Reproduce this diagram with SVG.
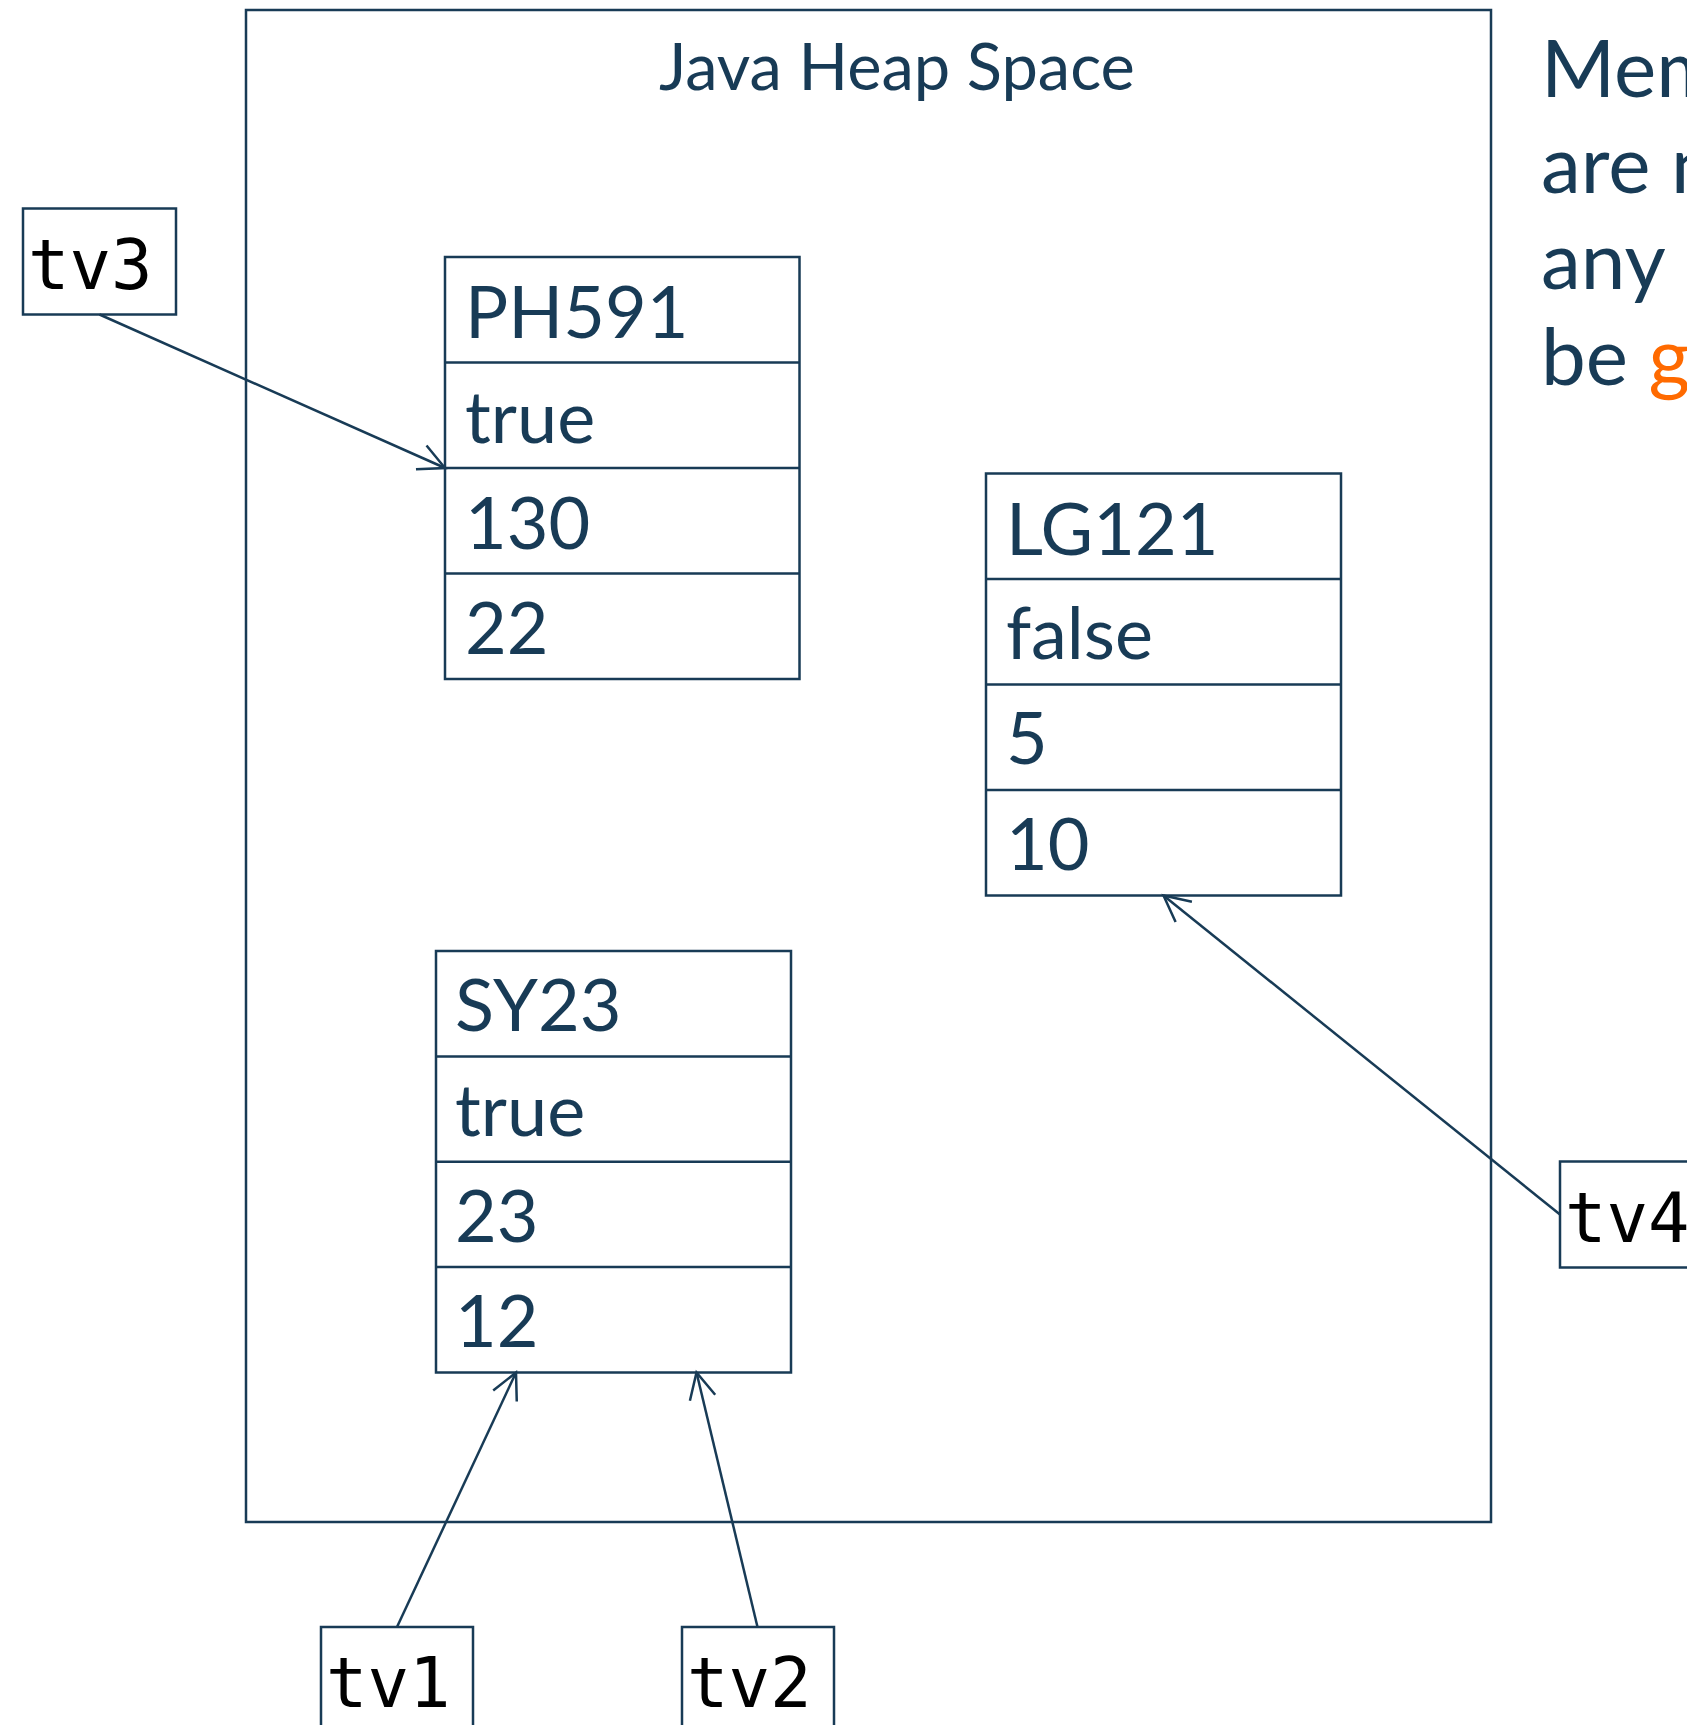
<svg xmlns="http://www.w3.org/2000/svg" width="1687" height="1725" viewBox="0 0 1687 1725">
<style>
.ln{fill:none;stroke:#183b56;stroke-width:2.5}
.cell{font-family:Lato,"Liberation Sans",sans-serif;font-size:72px;fill:#183b56}
.title{font-family:Lato,"Liberation Sans",sans-serif;font-size:65px;fill:#183b56}
.note{font-family:Lato,"Liberation Sans",sans-serif;font-size:80px;fill:#183b56}
.var{font-family:"DejaVu Sans Mono","Liberation Mono",monospace;font-size:69px;fill:#000}
.arr{fill:none;stroke:#183b56;stroke-width:2.5;marker-end:url(#open)}
</style>
<defs>
<marker id="open" markerUnits="userSpaceOnUse" markerWidth="40" markerHeight="40" viewBox="-30 -20 40 40" refX="0" refY="0" orient="auto">
<path d="M -26,-13 L 0,0 L -26,13" fill="none" stroke="#183b56" stroke-width="2.5"/>
</marker>
</defs>
<rect width="1687" height="1725" fill="#fff"/>
<g id="heap">
<rect class="ln" x="246" y="10" width="1245" height="1512"/>
<text class="title" x="659" y="90">Java Heap Space</text>
</g>
<g id="note">
<text class="note" x="1541" y="97">Memory</text>
<text class="note" x="1541" y="193">are not</text>
<text class="note" x="1541" y="289">any</text>
<text class="note" x="1541" y="385">be <tspan fill="#ff6a00">garbage</tspan></text>
</g>
<g id="PH591">
<rect class="ln" x="445" y="257" width="354.5" height="422"/>
<path class="ln" d="M445,362.5H799.5M445,468H799.5M445,573.5H799.5"/>
<text class="cell" x="465" y="338">PH591</text>
<text class="cell" x="465" y="443">true</text>
<text class="cell" x="465" y="548.5">130</text>
<text class="cell" x="465" y="654">22</text>
</g>
<g id="LG121">
<rect class="ln" x="986" y="473.5" width="355" height="422"/>
<path class="ln" d="M986,579H1341M986,684.5H1341M986,790H1341"/>
<text class="cell" x="1006" y="554.5">LG121</text>
<text class="cell" x="1006" y="659">false</text>
<text class="cell" x="1006" y="764">5</text>
<text class="cell" x="1006" y="870">10</text>
</g>
<g id="SY23">
<rect class="ln" x="436" y="951" width="355" height="421.5"/>
<path class="ln" d="M436,1056.4H791M436,1161.8H791M436,1267.1H791"/>
<text class="cell" x="455" y="1031">SY23</text>
<text class="cell" x="455" y="1136.4">true</text>
<text class="cell" x="455" y="1241.8">23</text>
<text class="cell" x="455" y="1347.1">12</text>
</g>
<g id="tv3">
<rect class="ln" x="23" y="208.5" width="153" height="106"/>
<text class="var" x="28" y="288.5">tv3</text>
</g>
<g id="tv4">
<rect class="ln" x="1560" y="1161.5" width="153" height="106"/>
<text class="var" x="1565" y="1241.5">tv4</text>
</g>
<g id="tv1">
<rect class="ln" x="321" y="1627" width="152" height="106"/>
<text class="var" x="326" y="1707">tv1</text>
</g>
<g id="tv2">
<rect class="ln" x="682" y="1627" width="152" height="106"/>
<text class="var" x="687" y="1707">tv2</text>
</g>
<g id="connectors">
<line class="arr" x1="99.5" y1="314.5" x2="445" y2="468"/>
<line class="arr" x1="1560" y1="1214.5" x2="1163.5" y2="895.5"/>
<line class="arr" x1="397" y1="1627" x2="516" y2="1372.5"/>
<line class="arr" x1="757.5" y1="1627" x2="696.5" y2="1372.5"/>
</g>
</svg>
